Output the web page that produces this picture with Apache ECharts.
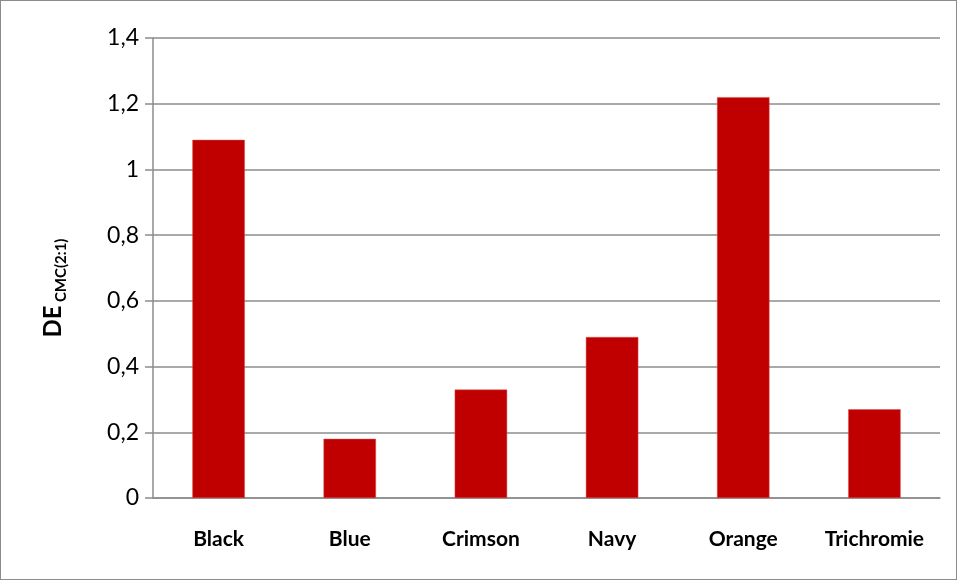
<!DOCTYPE html>
<html>
<head>
<meta charset="utf-8">
<script src="https://cdn.jsdelivr.net/npm/echarts@6/dist/echarts.min.js"></script>
<style>
  html, body { margin: 0; padding: 0; background: #fff; }
  #chart { width: 957px; height: 580px; box-sizing: border-box; border: 1px solid #8c8c8c; }
</style>
</head>
<body>
<div id="chart"></div>
<script>
var categories = ['Black', 'Blue', 'Crimson', 'Navy', 'Orange', 'Trichromie'];
var deValues = [1.09, 0.18, 0.33, 0.49, 1.22, 0.27];
var yTicks = [0, 0.2, 0.4, 0.6, 0.8, 1, 1.2, 1.4];

var myChart = echarts.init(document.getElementById('chart'));
myChart.setOption({
    animation: false,
    grid: { left: 152, right: 16, top: 37, bottom: 81 },
    xAxis: {
        type: 'category',
        data: categories,
        axisLine: { lineStyle: { color: '#8c8c8c', width: 1.5 } },
        axisTick: { length: 8, lineStyle: { color: '#8c8c8c', width: 1.5 } },
        axisLabel: {
            margin: 31,
            color: '#000',
            fontFamily: 'Lato',
            fontWeight: 'bold',
            fontSize: 21
        }
    },
    yAxis: {
        type: 'value',
        min: 0,
        max: 1.4,
        interval: 0.2,
        axisLine: { show: true, lineStyle: { color: '#8c8c8c', width: 1.5 } },
        axisTick: { show: true, length: 8, lineStyle: { color: '#8c8c8c', width: 1.5 } },
        splitLine: { lineStyle: { color: '#8c8c8c', width: 1.5 } },
        axisLabel: {
            margin: 14,
            color: '#000',
            fontFamily: 'Lato',
            fontSize: 23,
            formatter: function (v) {
                var t = yTicks.find(function (x) { return Math.abs(x - v) < 1e-9; });
                return String(t !== undefined ? t : v).replace('.', ',');
            }
        },
        name: '{main|DE} {sub|CMC(2:1)}',
        nameLocation: 'middle',
        nameGap: 84,
        nameRotate: 90,
        nameTextStyle: {
            padding: [0, 40, 0, 0],
            rich: {
                main: { fontFamily: 'Lato', fontWeight: 'bold', fontSize: 24, color: '#000', lineHeight: 32, verticalAlign: 'middle' },
                sub: { fontFamily: 'Lato', fontWeight: 'bold', fontSize: 15, color: '#000', lineHeight: 32, verticalAlign: 'bottom' }
            }
        }
    },
    series: [{
        type: 'bar',
        data: deValues,
        barWidth: '40%',
        itemStyle: { color: '#c00000', borderColor: '#d9534f', borderWidth: 0.5 }
    }]
});
</script>
</body>
</html>
